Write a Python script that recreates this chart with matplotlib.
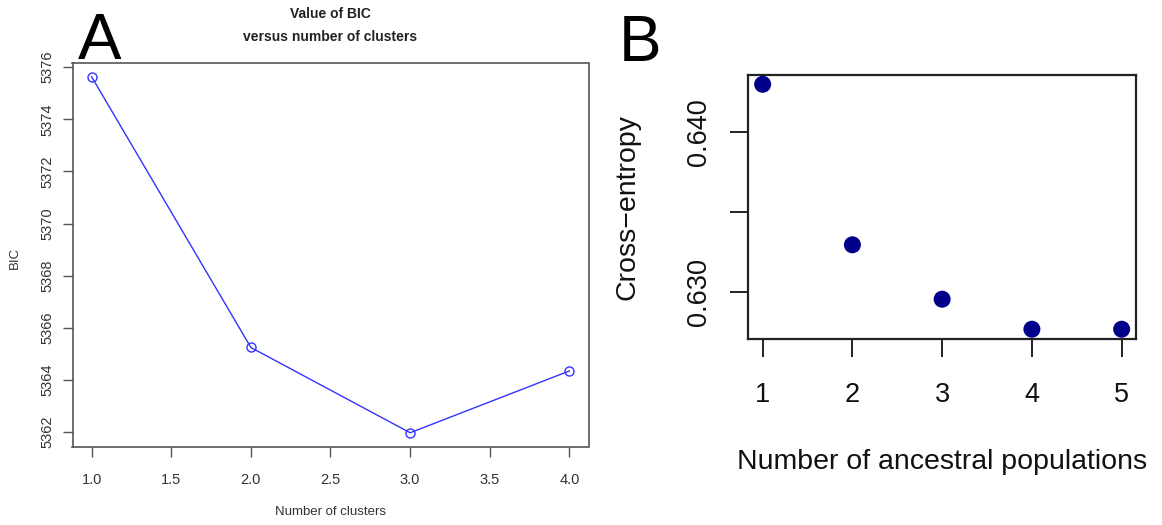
import matplotlib
matplotlib.use("Agg")
import matplotlib.pyplot as plt

plt.rcParams['font.family'] = ['Liberation Sans', 'DejaVu Sans']

# Panel A: BIC versus number of clusters
clusters = [1, 2, 3, 4]
bic = [5375.63, 5365.25, 5361.98, 5364.35]
bic_xticks = [1.0, 1.5, 2.0, 2.5, 3.0, 3.5, 4.0]
bic_yticks = [5362, 5364, 5366, 5368, 5370, 5372, 5374, 5376]

# Panel B: cross-entropy versus number of ancestral populations
populations = [1, 2, 3, 4, 5]
cross_entropy = [0.64301, 0.63295, 0.62954, 0.62766, 0.62766]
ce_yticks = [0.630, 0.635, 0.640]
ce_yticklabels = ['0.630', '', '0.640']

W, H = 1162, 525
fig = plt.figure(figsize=(W / 100, H / 100), dpi=100)


def rect(left, top, right, bottom):
    return [left / W, 1 - bottom / H, (right - left) / W, (bottom - top) / H]


def pt(x, y):
    return x / W, 1 - y / H


def r_range(vals):
    lo, hi = min(vals), max(vals)
    pad = 0.04 * (hi - lo)
    return lo - pad, hi + pad


# ---- Panel A ----
axA = fig.add_axes(rect(72.5, 62.5, 588.5, 447))
axA.plot(clusters, bic, color='#3333ff', lw=1.0, marker='o', ms=6.5,
         mfc='none', mec='#3333ff', mew=1.0)
axA.set_xlim(*r_range(clusters))
axA.set_ylim(*r_range(bic))
axA.set_xticks(bic_xticks)
axA.set_xticklabels([f'{v:.1f}' for v in bic_xticks])
axA.set_yticks(bic_yticks)
axA.set_yticklabels([str(v) for v in bic_yticks], rotation=90, va='center')
for s in axA.spines.values():
    s.set_color('#555555')
    s.set_linewidth(1.2)
axA.tick_params(axis='both', colors='#555555', labelcolor='#333333',
                length=7, width=1.0, labelsize=10.5)
axA.tick_params(axis='x', pad=12)
axA.tick_params(axis='y', pad=6)
fig.text(*pt(330.5, 14), 'Value of BIC', ha='center', va='center',
         fontsize=10, fontweight='bold', color='#222222')
fig.text(*pt(330.5, 37), 'versus number of clusters', ha='center', va='center',
         fontsize=10, fontweight='bold', color='#222222')
fig.text(*pt(330.5, 512), 'Number of clusters', ha='center', va='center',
         fontsize=9.5, color='#333333')
fig.text(*pt(15, 258), 'BIC', ha='center', va='center', rotation=90,
         fontsize=9.5, color='#333333')
fig.text(*pt(100, 42), 'A', ha='center', va='center', fontsize=47, color='black')

# ---- Panel B ----
axB = fig.add_axes(rect(748.3, 74.5, 1136, 339))
axB.scatter(populations, cross_entropy, s=150, color='#00008b',
            edgecolors='none', zorder=3)
axB.set_xlim(*r_range(populations))
axB.set_ylim(*r_range(cross_entropy))
axB.set_xticks(populations)
axB.set_xticklabels([str(v) for v in populations])
axB.set_yticks(ce_yticks)
axB.set_yticklabels(ce_yticklabels, rotation=90, va='center')
for s in axB.spines.values():
    s.set_color('#222222')
    s.set_linewidth(1.6)
axB.tick_params(axis='both', colors='#222222', labelcolor='#111111',
                length=13, width=1.4, labelsize=19.5)
axB.tick_params(axis='x', pad=18)
axB.tick_params(axis='y', pad=13)
fig.text(*pt(942, 462), 'Number of ancestral populations', ha='center',
         va='center', fontsize=20.5, color='#111111')
fig.text(*pt(628, 207), 'Cross\u2212entropy', ha='center', va='center',
         rotation=90, fontsize=20.5, color='#111111')
fig.text(*pt(640, 44), 'B', ha='center', va='center', fontsize=46, color='black')

fig.savefig('out.png', dpi=100)
